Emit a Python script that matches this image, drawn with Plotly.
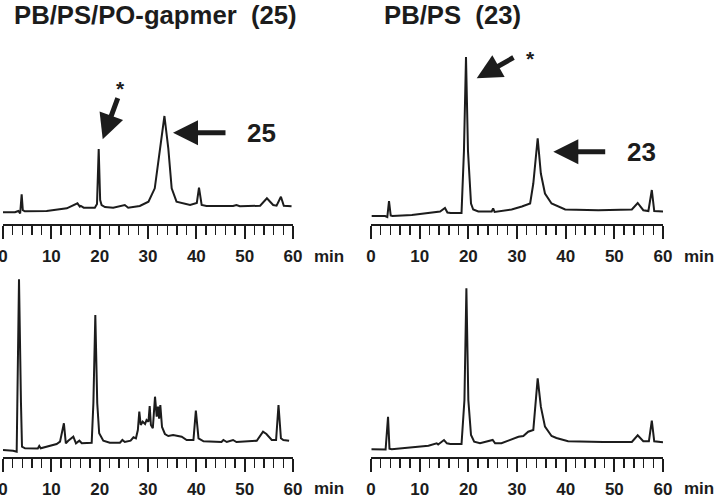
import plotly.graph_objects as go

# ---------------- data (retention time in min, detector signal in a.u.) ----------------
tl_time = [0.0, 2.48, 3.17, 3.55, 3.86, 4.1, 4.5, 9.03, 13.2, 15.4, 15.9, 16.1, 16.7, 19.0, 19.45,
           19.8, 20.1, 20.4, 21.1, 22.8, 25.2, 25.9, 28.3, 30.1, 31.4, 32.5, 33.4, 34.2, 34.9, 35.9,
           37.3, 38.7, 40.1, 40.55, 41.1, 42.1, 47.6, 48.3, 49.0, 53.2, 54.6, 55.9, 56.6, 57.5, 58.1, 59.7]
tl_signal = [11.7, 11.7, 13, 10.5, 29.7, 13.8, 12.7, 13, 15.7, 20.7, 17.3, 18, 16.3, 16.3, 20,
             75, 24, 19, 17, 16.3, 19, 16.3, 18, 22.3, 35.7, 75.7, 108, 75.7, 35.7, 22.3,
             20.7, 19, 21, 36.3, 19, 18, 18, 19, 17.7, 18.3, 25.7, 19, 18.3, 27.3, 18.3, 17.7]

tr_time = [0.14, 2.9, 3.35, 3.7, 4.05, 4.4, 8.4, 12.5, 14.2, 15.2, 15.7, 16.4, 18.6, 19.1,
           19.52, 19.93, 20.55, 21.0, 22.05, 24.8, 25.1, 25.4, 28.9, 31.0, 32.7, 33.35,
           34.25, 34.9, 35.75, 37.1, 39.9, 46.7, 53.6, 54.8, 55.95, 57.0, 57.7, 58.2, 60.0]
tr_signal = [8, 8, 7, 23, 8.5, 8, 9, 11, 12.5, 16, 11.5, 11, 11, 73,
             167, 73, 20.5, 14.5, 12.5, 12.5, 15.7, 12, 14.5, 17.5, 20.5, 40.5,
             85.7, 50.5, 30.5, 20.5, 14.5, 13.8, 14.5, 21, 13.8, 13, 34, 13, 12.5]

bl_time = [0.0, 2.1, 2.83, 3.31, 3.72, 3.93, 4.55, 7.2, 7.5, 7.8, 11.1, 11.8, 12.6, 13.0, 13.5,
           14.55, 15.1, 15.8, 16.3, 18.35, 18.7, 19.1, 19.5, 19.9, 20.75, 22.1, 24.2, 24.7, 25.2,
           26.4, 27.0, 27.5, 27.9, 28.2, 28.5, 28.9, 29.4, 29.7, 30.1, 30.35, 30.6, 31.0, 31.45,
           31.8, 32.07, 32.3, 32.55, 32.9, 33.5, 34.2, 35.2, 36.97, 38.0, 39.4, 39.9, 40.45, 41.5,
           45.2, 45.6, 46.3, 47.6, 48.3, 52.5, 53.8, 54.5, 55.6, 56.5, 57.0, 57.5, 58.0, 59.2]
bl_signal = [7, 6.3, 5.3, 177.7, 53.7, 10.3, 8.7, 8.5, 11, 8.7, 13, 15.3, 33.7, 13.7, 16.3,
             20.3, 13.7, 16.3, 13.7, 14.3, 53.7, 142, 53.7, 23.7, 16.3, 14.3, 14.3, 17, 15,
             16.3, 19.7, 18.7, 27, 45.3, 32, 35.3, 33, 37, 35.3, 51, 32, 28.7, 60.3,
             40.3, 50.3, 38.3, 52, 30, 23, 21, 22, 20.3, 17, 17, 46.3, 18.7, 15.7,
             15, 17, 15, 17, 15, 16.3, 25.3, 23, 17, 17, 52, 18.7, 17, 16.3]

br_time = [0.1, 2.5, 3.0, 3.5, 3.8, 4.25, 8.36, 11.8, 13.5, 13.8, 15.0, 15.6, 16.3, 18.6,
           19.2, 19.6, 20.0, 20.55, 21.2, 22.4, 25.0, 25.5, 26.8, 28.9, 30.3, 31.3, 32.3,
           33.35, 33.8, 34.25, 34.9, 35.75, 37.1, 38.1, 40.5, 46.0, 47.7, 53.6, 54.8, 55.95,
           57.1, 57.7, 58.2, 60.0]
br_signal = [7.7, 7, 7.5, 40.3, 8.3, 7.7, 9.7, 11.3, 13.7, 12.5, 17, 13.7, 13, 13,
             57, 168.7, 57, 22, 15.3, 13.7, 17, 13.7, 13.7, 17.7, 20.3, 21, 25.3,
             27, 50.3, 78.7, 50.3, 30.3, 21, 19, 15.7, 15, 15, 15, 21.7, 15.7,
             15.7, 36.3, 15.7, 14.7]

tick_values = [0, 10, 20, 30, 40, 50, 60]
tick_labels = ["0", "10", "20", "30", "40", "50", "60"]
panel_titles = ["PB/PS/PO-gapmer  (25)", "PB/PS  (23)"]
unit_label = "min"

# ---------------- figure ----------------
W, H = 717, 496
INK = "#1c1c1c"
FONT = "Liberation Sans, Arial, Helvetica, sans-serif"

fig = go.Figure()
panels = [
    ("x", "y", tl_time, tl_signal),
    ("x2", "y2", tr_time, tr_signal),
    ("x3", "y3", bl_time, bl_signal),
    ("x4", "y4", br_time, br_signal),
]
for xa, ya, t, s in panels:
    fig.add_trace(go.Scatter(x=t, y=s, mode="lines", xaxis=xa, yaxis=ya,
                             line=dict(color=INK, width=2), hoverinfo="skip",
                             showlegend=False))

xdom_left = [3 / W, 293 / W]
xdom_right = [371 / W, 663 / W]
ydom_top = [1 - 224 / H, 1 - 50 / H]
ydom_bot = [1 - 457 / H, 1 - 273 / H]

xcommon = dict(range=[0, 60], showgrid=False, zeroline=False, showline=True,
               linecolor=INK, linewidth=2, ticks="outside", ticklen=13, tickwidth=2,
               tickcolor=INK, tickvals=tick_values, ticktext=tick_labels,
               tickfont=dict(family=FONT, size=17, color=INK, weight="bold"),
               ticklabelstandoff=3, automargin=False, ticklabeloverflow="allow",
               minor=dict(dtick=2, tick0=0, ticks="outside", ticklen=9, tickwidth=1.5,
                          tickcolor=INK, showgrid=False),
               fixedrange=True)
ycommon = dict(visible=False, fixedrange=True, showgrid=False, zeroline=False,
               automargin=False)

fig.update_layout(
    width=W, height=H, autosize=False, margin=dict(l=0, r=0, t=0, b=0, pad=0),
    paper_bgcolor="white", plot_bgcolor="white",
    xaxis=dict(domain=xdom_left, anchor="y", **xcommon),
    xaxis2=dict(domain=xdom_right, anchor="y2", **xcommon),
    xaxis3=dict(domain=xdom_left, anchor="y3", **xcommon),
    xaxis4=dict(domain=xdom_right, anchor="y4", **xcommon),
    yaxis=dict(domain=ydom_top, range=[0, 174], anchor="x", **ycommon),
    yaxis2=dict(domain=ydom_top, range=[0, 174], anchor="x2", **ycommon),
    yaxis3=dict(domain=ydom_bot, range=[0, 184], anchor="x3", **ycommon),
    yaxis4=dict(domain=ydom_bot, range=[0, 184], anchor="x4", **ycommon),
)

ann = []
# panel titles
title_font = dict(family=FONT, size=25.7, color=INK, weight="bold")
ann.append(dict(text=panel_titles[0], xref="paper", yref="paper", x=12 / W, y=1 - 15 / H,
                xanchor="left", yanchor="middle", showarrow=False, font=title_font))
ann.append(dict(text=panel_titles[1], xref="paper", yref="paper", x=381.7 / W, y=1 - 15 / H,
                xanchor="left", yanchor="middle", showarrow=False, font=title_font))
# "min" unit labels at the right end of every axis
for xpix, ypix in [(329, 256.5), (699, 256.5), (329, 488.3), (699, 488.3)]:
    ann.append(dict(text=unit_label, xref="paper", yref="paper", x=xpix / W, y=1 - ypix / H,
                    xanchor="center", yanchor="middle", showarrow=False,
                    font=dict(family=FONT, size=17, color=INK, weight="bold")))

# arrows pointing at peaks
arrow_style = dict(showarrow=True, arrowhead=2, arrowsize=1, arrowwidth=5, arrowcolor=INK,
                   standoff=0, text="")
ann.append(dict(xref="x", yref="y", x=20.63, y=84.7, ax=15.6, ay=-42.6, **arrow_style))
ann.append(dict(xref="x", yref="y", x=35.17, y=91.3, ax=54, ay=0, **arrow_style))
ann.append(dict(xref="x2", yref="y2", x=21.72, y=145.7, ax=38.3, ay=-21.6, **arrow_style))
ann.append(dict(xref="x2", yref="y2", x=37.46, y=72.3, ax=53.4, ay=0, **arrow_style))

# peak labels
lab_font = dict(family=FONT, size=26, color=INK, weight="bold")
star_font = dict(family=FONT, size=21, color=INK, weight="bold")
ann.append(dict(text="25", xref="paper", yref="paper", x=261 / W, y=1 - 133 / H,
                showarrow=False, xanchor="center", yanchor="middle", font=lab_font))
ann.append(dict(text="23", xref="paper", yref="paper", x=641 / W, y=1 - 152 / H,
                showarrow=False, xanchor="center", yanchor="middle", font=lab_font))
ann.append(dict(text="*", xref="paper", yref="paper", x=120.7 / W, y=1 - 88.5 / H,
                showarrow=False, xanchor="center", yanchor="middle", font=star_font))
ann.append(dict(text="*", xref="paper", yref="paper", x=530.7 / W, y=1 - 58.5 / H,
                showarrow=False, xanchor="center", yanchor="middle", font=star_font))

fig.update_layout(annotations=ann)
fig.write_html("out.html", config={"displayModeBar": False, "staticPlot": True},
               post_script="document.body.style.margin='0';"
                           "document.body.style.overflow='hidden';")
